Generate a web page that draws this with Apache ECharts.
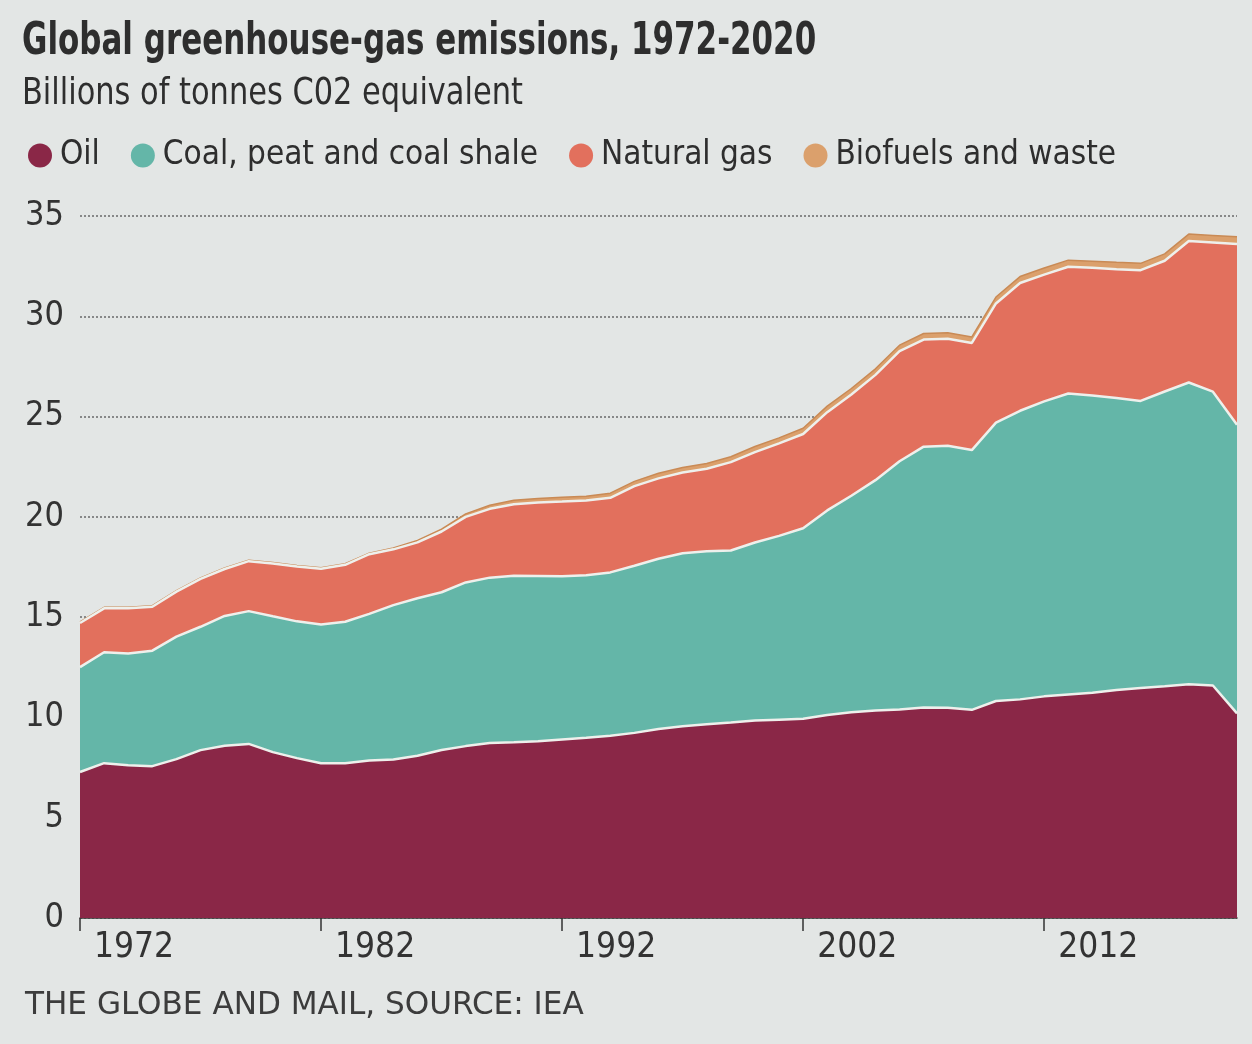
<!DOCTYPE html>
<html>
<head>
<meta charset="utf-8">
<script src="https://cdn.jsdelivr.net/npm/echarts@6/dist/echarts.min.js"></script>
<style>
  html, body { margin: 0; padding: 0; background: #e3e6e5; }
  #chart { width: 1252px; height: 1044px; }
</style>
</head>
<body>
<div id="chart"></div>
<script>
// Global greenhouse-gas emissions by fuel, billions of tonnes CO2 equivalent (IEA)
const years = [
  1972, 1973, 1974, 1975, 1976, 1977, 1978, 1979, 1980, 1981,
  1982, 1983, 1984, 1985, 1986, 1987, 1988, 1989, 1990, 1991,
  1992, 1993, 1994, 1995, 1996, 1997, 1998, 1999, 2000, 2001,
  2002, 2003, 2004, 2005, 2006, 2007, 2008, 2009, 2010, 2011,
  2012, 2013, 2014, 2015, 2016, 2017, 2018, 2019, 2020
];

const oil = [
  7.28, 7.72, 7.62, 7.57, 7.92, 8.37, 8.59, 8.68, 8.27, 7.97,
  7.72, 7.71, 7.85, 7.90, 8.09, 8.38, 8.57, 8.72, 8.76, 8.81,
  8.90, 8.99, 9.09, 9.23, 9.42, 9.56, 9.66, 9.75, 9.85, 9.89,
  9.93, 10.12, 10.26, 10.35, 10.40, 10.49, 10.48, 10.38, 10.82, 10.90,
  11.05, 11.14, 11.23, 11.37, 11.47, 11.55, 11.65, 11.59, 10.20
];

const coal = [
  5.23, 5.53, 5.57, 5.76, 6.11, 6.15, 6.47, 6.62, 6.77, 6.82,
  6.91, 7.06, 7.31, 7.70, 7.85, 7.86, 8.16, 8.25, 8.30, 8.24,
  8.14, 8.10, 8.14, 8.33, 8.49, 8.63, 8.62, 8.57, 8.87, 9.16,
  9.50, 10.20, 10.79, 11.48, 12.37, 13.01, 13.06, 12.95, 13.88, 14.39,
  14.71, 15.01, 14.82, 14.56, 14.31, 14.70, 15.05, 14.65, 14.39
];

const gas = [
  2.20, 2.19, 2.25, 2.19, 2.24, 2.39, 2.34, 2.49, 2.64, 2.73,
  2.78, 2.84, 2.98, 2.78, 2.79, 3.03, 3.27, 3.43, 3.57, 3.67,
  3.72, 3.72, 3.72, 3.97, 4.01, 4.02, 4.12, 4.41, 4.51, 4.61,
  4.70, 4.90, 5.05, 5.25, 5.49, 5.34, 5.34, 5.34, 5.94, 6.37,
  6.32, 6.32, 6.37, 6.42, 6.52, 6.52, 7.05, 7.44, 9.02
];

const biofuels = [
  0.05, 0.05, 0.05, 0.05, 0.05, 0.05, 0.05, 0.05, 0.05, 0.05,
  0.05, 0.05, 0.05, 0.07, 0.09, 0.12, 0.15, 0.18, 0.20, 0.20,
  0.22, 0.22, 0.23, 0.24, 0.25, 0.25, 0.26, 0.27, 0.28, 0.28,
  0.29, 0.30, 0.30, 0.30, 0.30, 0.30, 0.30, 0.30, 0.32, 0.32,
  0.33, 0.33, 0.33, 0.34, 0.34, 0.34, 0.35, 0.35, 0.35
];

const seriesNames = ['Oil', 'Coal, peat and coal shale', 'Natural gas', 'Biofuels and waste'];

const COLORS = {
  oil: '#8a2747',
  coal: '#64b6a8',
  gas: '#e2705d',
  bio: '#dba06c',
  divider: '#eef0ec',
  text: '#2e2e2e'
};

const FONT = "'DejaVu Sans Condensed', 'Open Sans', sans-serif";

// Each layer is stacked on the one below; upper layers sit lower in z so
// the white dividing lines of the lower layers stay fully visible.
function layer(name, data, color, z, lineStyle) {
  return {
    name: name,
    type: 'line',
    stack: 'total',
    data: data,
    z: z,
    symbol: 'none',
    smooth: false,
    itemStyle: { color: color },
    areaStyle: { color: color, opacity: 1 },
    lineStyle: lineStyle,
    emphasis: { disabled: true },
    silent: true
  };
}

const chart = echarts.init(document.getElementById('chart'), null, { renderer: 'canvas' });

const option = {
  backgroundColor: '#e3e6e5',
  animation: false,
  textStyle: { fontFamily: FONT },
  graphic: [
    {
      type: 'text', x: 22, y: 20, scaleX: 0.765,
      style: {
        text: 'Global greenhouse-gas emissions, 1972-2020',
        font: "bold 45px " + FONT, fill: COLORS.text, verticalAlign: 'top'
      }
    },
    {
      type: 'text', x: 22, y: 75, scaleX: 0.89,
      style: {
        text: 'Billions of tonnes C02 equivalent',
        font: "38px " + FONT, fill: COLORS.text, verticalAlign: 'top'
      }
    },
    {
      type: 'text', x: 25, y: 1006, scaleX: 1.08,
      style: {
        text: 'THE GLOBE AND MAIL, SOURCE: IEA',
        font: "32px " + FONT, fill: '#3c3c3c', verticalAlign: 'middle'
      }
    }
  ],
  legend: {
    left: 23,
    top: 134,
    icon: 'circle',
    itemWidth: 24,
    itemHeight: 24,
    itemGap: 31,
    selectedMode: false,
    textStyle: { fontSize: 33, color: COLORS.text, fontFamily: FONT, padding: [0, 0, 0, 3] },
    itemStyle: { borderWidth: 0 },
    data: [
      { name: seriesNames[0], itemStyle: { color: COLORS.oil } },
      { name: seriesNames[1], itemStyle: { color: COLORS.coal } },
      { name: seriesNames[2], itemStyle: { color: COLORS.gas } },
      { name: seriesNames[3], itemStyle: { color: COLORS.bio } }
    ]
  },
  grid: { left: 80, right: 15, top: 216, bottom: 126, containLabel: false },
  xAxis: {
    type: 'category',
    data: years.map(String),
    boundaryGap: false,
    axisLine: { lineStyle: { color: '#333', width: 1.5 } },
    axisTick: { interval: 9, length: 13, lineStyle: { color: '#333', width: 1.5 } },
    axisLabel: {
      interval: 9, align: 'left', padding: [0, 0, 0, 14],
      fontSize: 35, color: '#333', margin: 12, fontFamily: FONT
    },
    splitLine: { show: false }
  },
  yAxis: {
    type: 'value',
    min: 0, max: 35, interval: 5,
    axisLine: { show: false },
    axisTick: { show: false },
    axisLabel: { fontSize: 34, color: '#333', margin: 16, fontFamily: FONT },
    splitLine: { lineStyle: { type: [2, 2], color: '#6a6a6a', width: 1.5 } }
  },
  series: [
    layer(seriesNames[0], oil, COLORS.oil, 8, { color: COLORS.divider, width: 2.5 }),
    layer(seriesNames[1], coal, COLORS.coal, 7, { color: COLORS.divider, width: 2.5 }),
    layer(seriesNames[2], gas, COLORS.gas, 6, { color: COLORS.divider, width: 2.5 }),
    layer(seriesNames[3], biofuels, COLORS.bio, 5, { color: '#c98a55', width: 1.5 })
  ]
};

chart.setOption(option);
</script>
</body>
</html>
